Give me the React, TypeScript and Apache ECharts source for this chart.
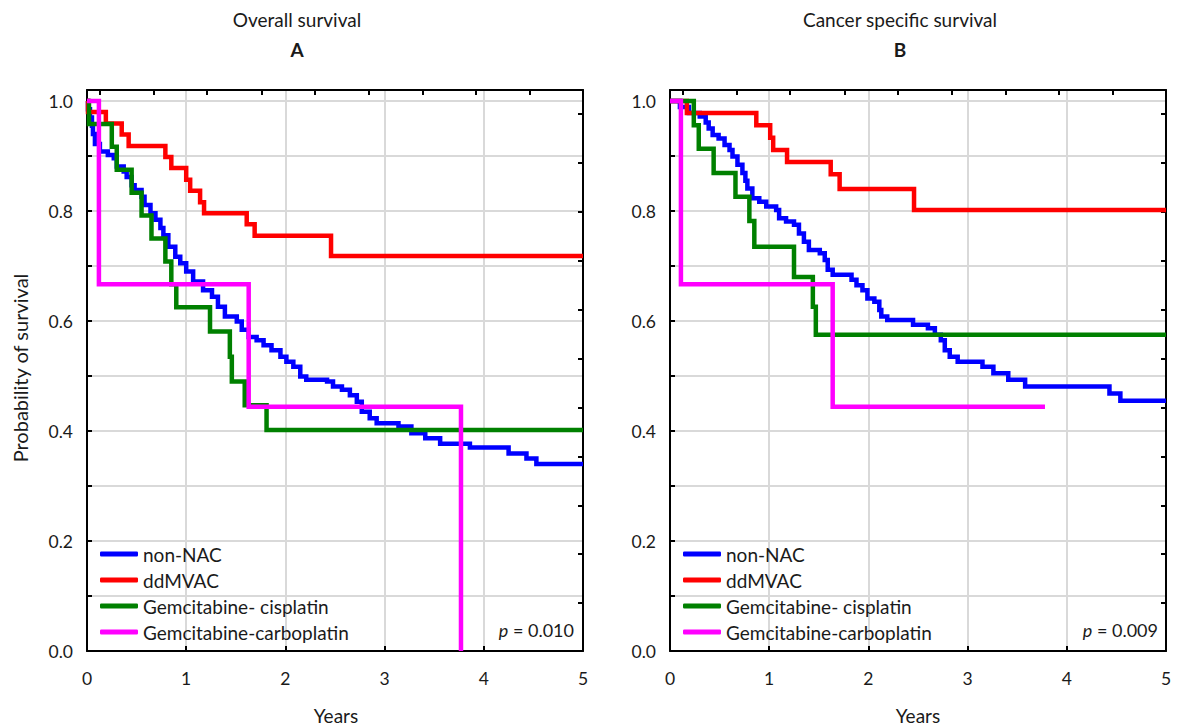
import React, { useEffect, useRef } from "react";
import * as echarts from "echarts";

// ---------- data ----------
const seriesNames = ["non-NAC", "ddMVAC", "Gemcitabine- cisplatin", "Gemcitabine-carboplatin"];
const seriesColors = ["#0000ff", "#ff0000", "#008000", "#ff00ff"];
const xTickLabels = [0, 1, 2, 3, 4, 5];

// Panel A: overall survival
const aNonNacT = [0, 0.01, 0.03, 0.05, 0.06, 0.08, 0.13, 0.21, 0.27, 0.30, 0.37, 0.40, 0.45, 0.48, 0.55, 0.58, 0.64, 0.69, 0.74, 0.77, 0.82, 0.89, 0.94, 1.00, 1.07, 1.17, 1.26, 1.32, 1.39, 1.51, 1.56, 1.63, 1.71, 1.78, 1.86, 1.95, 2.01, 2.08, 2.15, 2.21, 2.42, 2.48, 2.57, 2.65, 2.72, 2.77, 2.85, 2.92, 3.14, 3.27, 3.41, 3.56, 3.86, 4.25, 4.43, 4.53, 5.0];
const aNonNacS = [1.0, 0.985, 0.97, 0.955, 0.94, 0.922, 0.908, 0.902, 0.896, 0.881, 0.872, 0.862, 0.847, 0.838, 0.826, 0.811, 0.796, 0.784, 0.769, 0.756, 0.735, 0.717, 0.705, 0.690, 0.672, 0.656, 0.644, 0.626, 0.608, 0.599, 0.584, 0.571, 0.565, 0.556, 0.547, 0.535, 0.526, 0.517, 0.499, 0.493, 0.490, 0.481, 0.475, 0.465, 0.453, 0.435, 0.423, 0.414, 0.408, 0.396, 0.387, 0.377, 0.370, 0.359, 0.350, 0.340, 0.340];
const aDdmvacT = [0, 0.01, 0.19, 0.35, 0.42, 0.79, 0.85, 1.00, 1.04, 1.14, 1.18, 1.61, 1.69, 2.46, 5.0];
const aDdmvacS = [1.0, 0.980, 0.959, 0.939, 0.918, 0.898, 0.878, 0.857, 0.837, 0.816, 0.796, 0.776, 0.755, 0.718, 0.718];
const aGemCisT = [0, 0.02, 0.25, 0.30, 0.45, 0.55, 0.65, 0.79, 0.85, 0.90, 1.24, 1.44, 1.46, 1.59, 1.81, 5.0];
const aGemCisS = [1.0, 0.958, 0.917, 0.875, 0.833, 0.792, 0.750, 0.708, 0.667, 0.625, 0.581, 0.535, 0.490, 0.447, 0.402, 0.402];
const aGemCarT = [0, 0.12, 1.63, 3.77];
const aGemCarS = [1.0, 0.667, 0.444, 0.0];

// Panel B: cancer specific survival
const bNonNacT = [0, 0.10, 0.19, 0.30, 0.36, 0.39, 0.43, 0.49, 0.55, 0.60, 0.63, 0.68, 0.73, 0.76, 0.78, 0.83, 0.90, 0.97, 1.07, 1.10, 1.17, 1.25, 1.30, 1.35, 1.40, 1.51, 1.56, 1.59, 1.64, 1.83, 1.88, 1.94, 1.99, 2.06, 2.11, 2.13, 2.19, 2.45, 2.60, 2.67, 2.73, 2.77, 2.82, 2.90, 3.15, 3.26, 3.41, 3.58, 4.43, 4.54, 5.0];
const bNonNacS = [1.0, 0.989, 0.978, 0.972, 0.961, 0.950, 0.938, 0.932, 0.920, 0.911, 0.899, 0.884, 0.869, 0.855, 0.841, 0.823, 0.817, 0.808, 0.802, 0.787, 0.781, 0.775, 0.759, 0.744, 0.729, 0.723, 0.711, 0.693, 0.684, 0.675, 0.665, 0.656, 0.641, 0.635, 0.620, 0.608, 0.602, 0.593, 0.587, 0.575, 0.565, 0.547, 0.535, 0.526, 0.517, 0.505, 0.493, 0.481, 0.468, 0.455, 0.455];
const bDdmvacT = [0, 0.17, 0.87, 1.01, 1.04, 1.18, 1.62, 1.71, 2.46, 5.0];
const bDdmvacS = [1.0, 0.978, 0.956, 0.933, 0.911, 0.889, 0.867, 0.840, 0.802, 0.802];
const bGemCisT = [0, 0.24, 0.29, 0.44, 0.66, 0.80, 0.85, 1.25, 1.44, 1.47, 5.0];
const bGemCisS = [1.0, 0.956, 0.913, 0.869, 0.826, 0.782, 0.735, 0.680, 0.626, 0.575, 0.575];
const bGemCarT = [0, 0.11, 1.64, 3.78];
const bGemCarS = [1.0, 0.667, 0.444, 0.444];

const topTickYears = [0.13, 0.67, 1.21, 1.76, 2.30, 2.84, 3.38, 3.92, 4.46];
const rightTickValues = [0.087, 0.176, 0.265, 0.354, 0.443, 0.532, 0.621, 0.709, 0.798, 0.887, 0.976];

const panelTitles = ["Overall survival", "Cancer specific survival"];
const panelLetters = ["A", "B"];
const pValues = ["0.010", "0.009"];

// ---------- helpers ----------
const FONT = "Lato, 'Noto Sans', sans-serif";
const TEXT = "#1a1a1a";
const GRID_LEFTS = [87, 670];
const GRID_W = 496;
const GRID_TOP = 90;
const GRID_H = 561;

const zip = (t: number[], s: number[]) => t.map((v, i) => [v, s[i]]);

export default function App() {
  const ref = useRef<HTMLDivElement>(null);

  useEffect(() => {
    if (!ref.current) return;
    const chart = echarts.init(ref.current, undefined, { renderer: "svg" });

    const panels = [
      [zip(aNonNacT, aNonNacS), zip(aDdmvacT, aDdmvacS), zip(aGemCisT, aGemCisS), zip(aGemCarT, aGemCarS)],
      [zip(bNonNacT, bNonNacS), zip(bDdmvacT, bDdmvacS), zip(bGemCisT, bGemCisS), zip(bGemCarT, bGemCarS)],
    ];

    const xAxes: any[] = [];
    const yAxes: any[] = [];
    const series: any[] = [];
    [0, 1].forEach((p) => {
      xAxes.push({
        type: "value", gridIndex: p, position: "bottom", min: 0, max: 5, interval: 1,
        axisLine: { show: true, onZero: false, lineStyle: { color: "#000", width: 2 } },
        axisTick: { show: true, inside: true, length: 5, lineStyle: { color: "#000", width: 2 } },
        axisLabel: { show: true, margin: 18, fontSize: 17.5, fontFamily: FONT, color: TEXT,
          formatter: (v: number) => (xTickLabels.includes(Math.round(v)) ? String(Math.round(v)) : "") },
        splitLine: { show: true, lineStyle: { color: "#d9d9d9", width: 2 } },
      });
      xAxes.push({
        type: "value", gridIndex: p, position: "top", min: 0, max: 5,
        axisLine: { show: true, onZero: false, lineStyle: { color: "#000", width: 2 } },
        axisTick: { show: true, inside: true, length: 5, customValues: topTickYears, lineStyle: { color: "#000", width: 2 } },
        axisLabel: { show: false },
        splitLine: { show: false },
      });
      yAxes.push({
        type: "value", gridIndex: p, position: "left", min: 0, max: 1.02, interval: 0.1,
        axisLine: { show: true, onZero: false, lineStyle: { color: "#000", width: 2 } },
        axisTick: { show: true, inside: true, length: 5, lineStyle: { color: "#000", width: 2 } },
        axisLabel: { show: true, margin: 14, fontSize: 17.5, fontFamily: FONT, color: TEXT,
          formatter: (v: number) => {
            const k = Math.round(v * 10);
            if (Math.abs(v * 10 - k) > 1e-6 || k % 2 !== 0) return "";
            return (k / 10).toFixed(1);
          } },
        splitLine: { show: true, lineStyle: { color: "#d9d9d9", width: 2 } },
      });
      yAxes.push({
        type: "value", gridIndex: p, position: "right", min: 0, max: 1.02,
        axisLine: { show: true, onZero: false, lineStyle: { color: "#000", width: 2 } },
        axisTick: { show: true, inside: true, length: 5, customValues: rightTickValues, lineStyle: { color: "#000", width: 2 } },
        axisLabel: { show: false },
        splitLine: { show: false },
      });
      panels[p].forEach((data, i) => {
        series.push({
          type: "line", name: seriesNames[i], xAxisIndex: p * 2, yAxisIndex: p * 2,
          step: "end", data, symbol: "none", showSymbol: false, clip: true, z: 3 + i,
          lineStyle: { color: seriesColors[i], width: 4.5, join: "miter", cap: "butt" },
          itemStyle: { color: seriesColors[i] },
          emphasis: { disabled: true },
        });
      });
    });

    const graphic: any[] = [];
    [0, 1].forEach((p) => {
      const cx = [297, 900][p];
      graphic.push({ type: "text", x: cx, y: 19, style: { text: panelTitles[p], fontSize: 19, fontFamily: FONT, fill: TEXT, textAlign: "center", textVerticalAlign: "middle" } });
      graphic.push({ type: "text", x: cx, y: 49, style: { text: panelLetters[p], fontSize: 19, fontWeight: "bold", fontFamily: FONT, fill: TEXT, textAlign: "center", textVerticalAlign: "middle" } });
      graphic.push({ type: "text", x: [336, 918][p], y: 715, style: { text: "Years", fontSize: 19, fontFamily: FONT, fill: TEXT, textAlign: "center", textVerticalAlign: "middle" } });
    });
    graphic.push({ type: "text", x: 20, y: 368, rotation: Math.PI / 2, style: { text: "Probability of survival", fontSize: 20, fontFamily: FONT, fill: TEXT, textAlign: "center", textVerticalAlign: "middle" } });

    const legendCommon = {
      orient: "vertical", top: 544, itemWidth: 38, itemHeight: 5, icon: "roundRect", itemGap: 6, padding: 0,
      data: seriesNames, selectedMode: false,
      textStyle: { fontSize: 19, fontFamily: FONT, color: TEXT, lineHeight: 20 },
    };

    chart.setOption({
      animation: false,
      backgroundColor: "#ffffff",
      grid: GRID_LEFTS.map((l) => ({ left: l, top: GRID_TOP, width: GRID_W, height: GRID_H, containLabel: false })),
      xAxis: xAxes,
      yAxis: yAxes,
      series,
      legend: [
        { ...legendCommon, left: 100 },
        { ...legendCommon, left: 683 },
      ],
      title: [0, 1].map((p) => ({
        text: "{i|p} = " + pValues[p],
        right: [611, 27][p], top: 621, padding: 0,
        textStyle: { fontSize: 18, fontWeight: "normal", fontFamily: FONT, color: TEXT,
          rich: { i: { fontStyle: "italic", fontSize: 18, fontFamily: FONT, color: TEXT } } },
      })),
      graphic,
    });

    return () => chart.dispose();
  }, []);

  return (
    <div
      ref={ref}
      style={{ position: "fixed", left: 0, top: 0, width: 1185, height: 727, background: "#fff" }}
    />
  );
}
